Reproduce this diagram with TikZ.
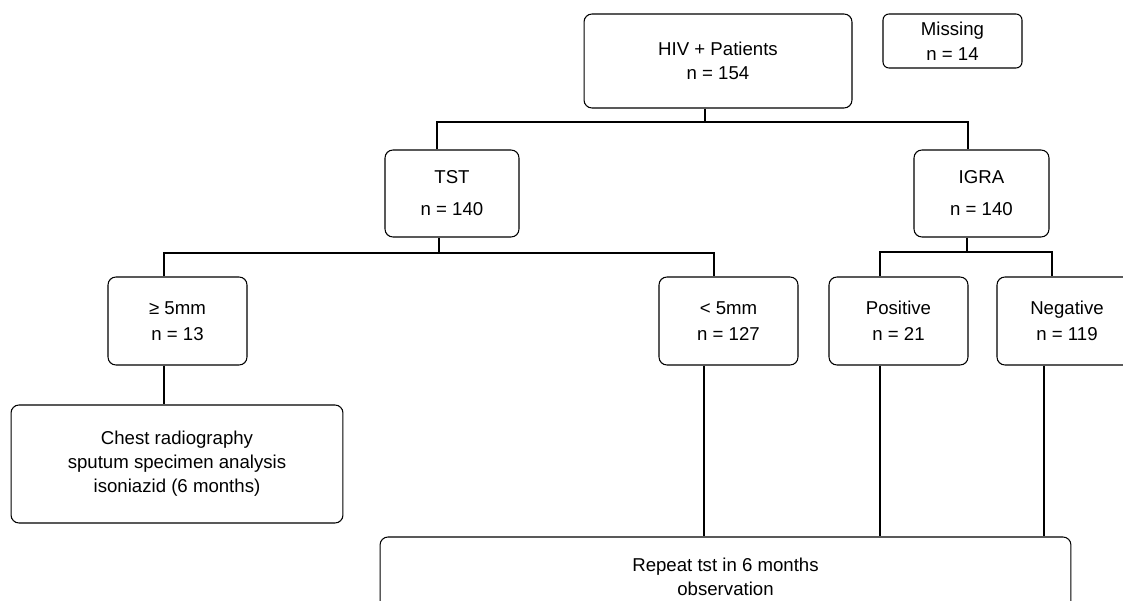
\documentclass[tikz,border=0pt]{standalone}
\usepackage{fontspec}
\setmainfont{Liberation Sans}
\usetikzlibrary{positioning}
\tikzstyle{box}=[draw,rounded corners=4.5pt,align=center,inner sep=0pt,
  line width=.6pt,font=\fontsize{10.6}{13.6}\selectfont]
\tikzstyle{link}=[line width=.6pt]

\begin{document}
\begin{tikzpicture}[x=0.02cm, y=-0.02cm]
  \useasboundingbox (0,0) rectangle (1123,601);
  \clip (0,0) rectangle (1123,601);

  \node[box, minimum width=5.36cm, minimum height=1.88cm] (hiv) at (718,61)
    {HIV + Patients\\n = 154};
  \node[box, rounded corners=3.4pt, minimum width=2.78cm, minimum height=1.08cm]
    (miss) at (952.5,41) {Missing\\[0.6pt]n = 14};
  \node[box, minimum width=2.68cm, minimum height=1.74cm] (tst) at (452,193.5)
    {TST\\[4.6pt]n = 140};
  \node[box, minimum width=2.70cm, minimum height=1.74cm] (igra) at (981.5,193.5)
    {IGRA\\[4.6pt]n = 140};
  \node[box, minimum width=2.78cm, minimum height=1.76cm] (ge5) at (177.5,321)
    {≥ 5mm\\[1.2pt]n = 13};
  \node[box, minimum width=2.78cm, minimum height=1.76cm] (lt5) at (728.5,321)
    {< 5mm\\[1.2pt]n = 127};
  \node[box, minimum width=2.78cm, minimum height=1.76cm] (pos) at (898.5,321)
    {Positive\\[1.2pt]n = 21};
  \node[box, minimum width=2.80cm, minimum height=1.76cm] (neg) at (1067,321)
    {Negative\\[1.2pt]n = 119};
  \node[box, minimum width=6.64cm, minimum height=2.36cm] (chest) at (177,464)
    {Chest radiography\\sputum specimen analysis\\isoniazid (6 months)};
  \node[box, minimum width=13.82cm, minimum height=1.6cm] (rep) at (725.5,577)
    {Repeat tst in 6 months\\observation};

  % splits
  \coordinate (busA) at (705,122);
  \coordinate (busB) at (439,253);
  \coordinate (busC) at (967,252);
  \draw[link] (hiv.south -| busA) -- (busA);
  \draw[link] (tst.north -| 437,0) |- (busA) -| (igra.north -| 968,0);
  \draw[link] (tst.south -| busB) -- (busB);
  \draw[link] (ge5.north -| 164,0) |- (busB) -| (lt5.north -| 714,0);
  \draw[link] (igra.south -| busC) -- (busC);
  \draw[link] (pos.north -| 880,0) |- (busC) -| (neg.north -| 1052,0);

  % down to the outcomes
  \draw[link] (ge5.south -| 164,0) -- (chest.north -| 164,0);
  \draw[link] (lt5.south -| 704,0) -- (rep.north -| 704,0);
  \draw[link] (pos.south -| 880,0) -- (rep.north -| 880,0);
  \draw[link] (neg.south -| 1044,0) -- (rep.north -| 1044,0);
\end{tikzpicture}
\end{document}
